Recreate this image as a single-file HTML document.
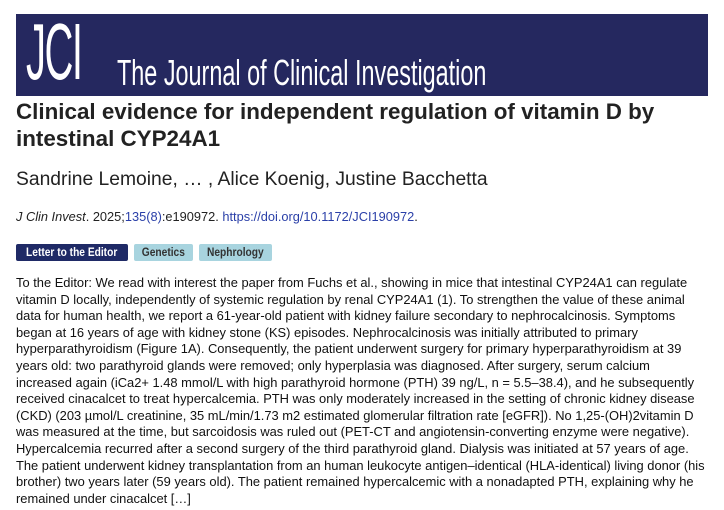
<!DOCTYPE html>
<html><head><meta charset="utf-8"><style>
body{margin:0;background:#fff;width:724px;height:510px;overflow:hidden;font-family:"Liberation Sans",Arial,sans-serif;color:#222;position:relative}
.ab{position:absolute;white-space:nowrap}
.banner{position:absolute;left:16px;top:14px;width:692px;height:82px;background:#25285f}
.tag{position:absolute;top:244px;height:17px;font-size:12px;font-weight:bold;line-height:17px;border-radius:2px;text-align:center;overflow:hidden}
.tag span{display:inline-block;transform:scaleX(0.85)}
.body div{position:absolute;left:16px;white-space:nowrap;font-size:12.9px;color:#111;line-height:16px}
</style></head><body>
<div class="banner"></div>
<div class="ab" style="left:26px;top:12px;color:#fff;font-size:80px;line-height:80px;transform:scaleX(0.5);transform-origin:left top;letter-spacing:-3px">JCI</div>
<div class="ab" style="left:117px;top:53px;color:#fff;font-size:36px;line-height:40px;transform:scaleX(0.65);transform-origin:left top">The Journal of Clinical Investigation</div>
<div class="ab" style="left:16px;top:98px;font-size:22.4px;font-weight:bold;line-height:27px;color:#222">Clinical evidence for independent regulation of vitamin D by<br>intestinal CYP24A1</div>
<div class="ab" style="left:16px;top:169px;font-size:19.3px;color:#222">Sandrine Lemoine, … , Alice Koenig, Justine Bacchetta</div>
<div class="ab" style="left:16px;top:209px;font-size:12.8px;color:#222"><i>J Clin Invest</i>. 2025;<span style="color:#2a3fa8">135(8)</span>:e190972. <span style="color:#2a3fa8">https://doi.org/10.1172/JCI190972</span>.</div>
<div class="tag" style="left:16px;width:112px;background:#1f2a66;color:#fff"><span>Letter to the Editor</span></div>
<div class="tag" style="left:134px;width:59px;background:#a8d4df;color:#333"><span>Genetics</span></div>
<div class="tag" style="left:199px;width:73px;background:#a8d4df;color:#333"><span>Nephrology</span></div>
<div class="body">
<div style="top:275px">To the Editor: We read with interest the paper from Fuchs et al., showing in mice that intestinal CYP24A1 can regulate</div>
<div style="top:291.6px">vitamin D locally, independently of systemic regulation by renal CYP24A1 (1). To strengthen the value of these animal</div>
<div style="top:308.2px">data for human health, we report a 61-year-old patient with kidney failure secondary to nephrocalcinosis. Symptoms</div>
<div style="top:324.8px">began at 16 years of age with kidney stone (KS) episodes. Nephrocalcinosis was initially attributed to primary</div>
<div style="top:341.4px">hyperparathyroidism (Figure 1A). Consequently, the patient underwent surgery for primary hyperparathyroidism at 39</div>
<div style="top:358px">years old: two parathyroid glands were removed; only hyperplasia was diagnosed. After surgery, serum calcium</div>
<div style="top:374.6px">increased again (iCa2+ 1.48 mmol/L with high parathyroid hormone (PTH) 39 ng/L, n = 5.5–38.4), and he subsequently</div>
<div style="top:391.2px">received cinacalcet to treat hypercalcemia. PTH was only moderately increased in the setting of chronic kidney disease</div>
<div style="top:407.8px">(CKD) (203 µmol/L creatinine, 35 mL/min/1.73 m2 estimated glomerular filtration rate [eGFR]). No 1,25-(OH)2vitamin D</div>
<div style="top:424.4px">was measured at the time, but sarcoidosis was ruled out (PET-CT and angiotensin-converting enzyme were negative).</div>
<div style="top:441px">Hypercalcemia recurred after a second surgery of the third parathyroid gland. Dialysis was initiated at 57 years of age.</div>
<div style="top:457.6px">The patient underwent kidney transplantation from an human leukocyte antigen–identical (HLA-identical) living donor (his</div>
<div style="top:474.2px">brother) two years later (59 years old). The patient remained hypercalcemic with a nonadapted PTH, explaining why he</div>
<div style="top:490.8px">remained under cinacalcet […]</div>
</div>
</body></html>
